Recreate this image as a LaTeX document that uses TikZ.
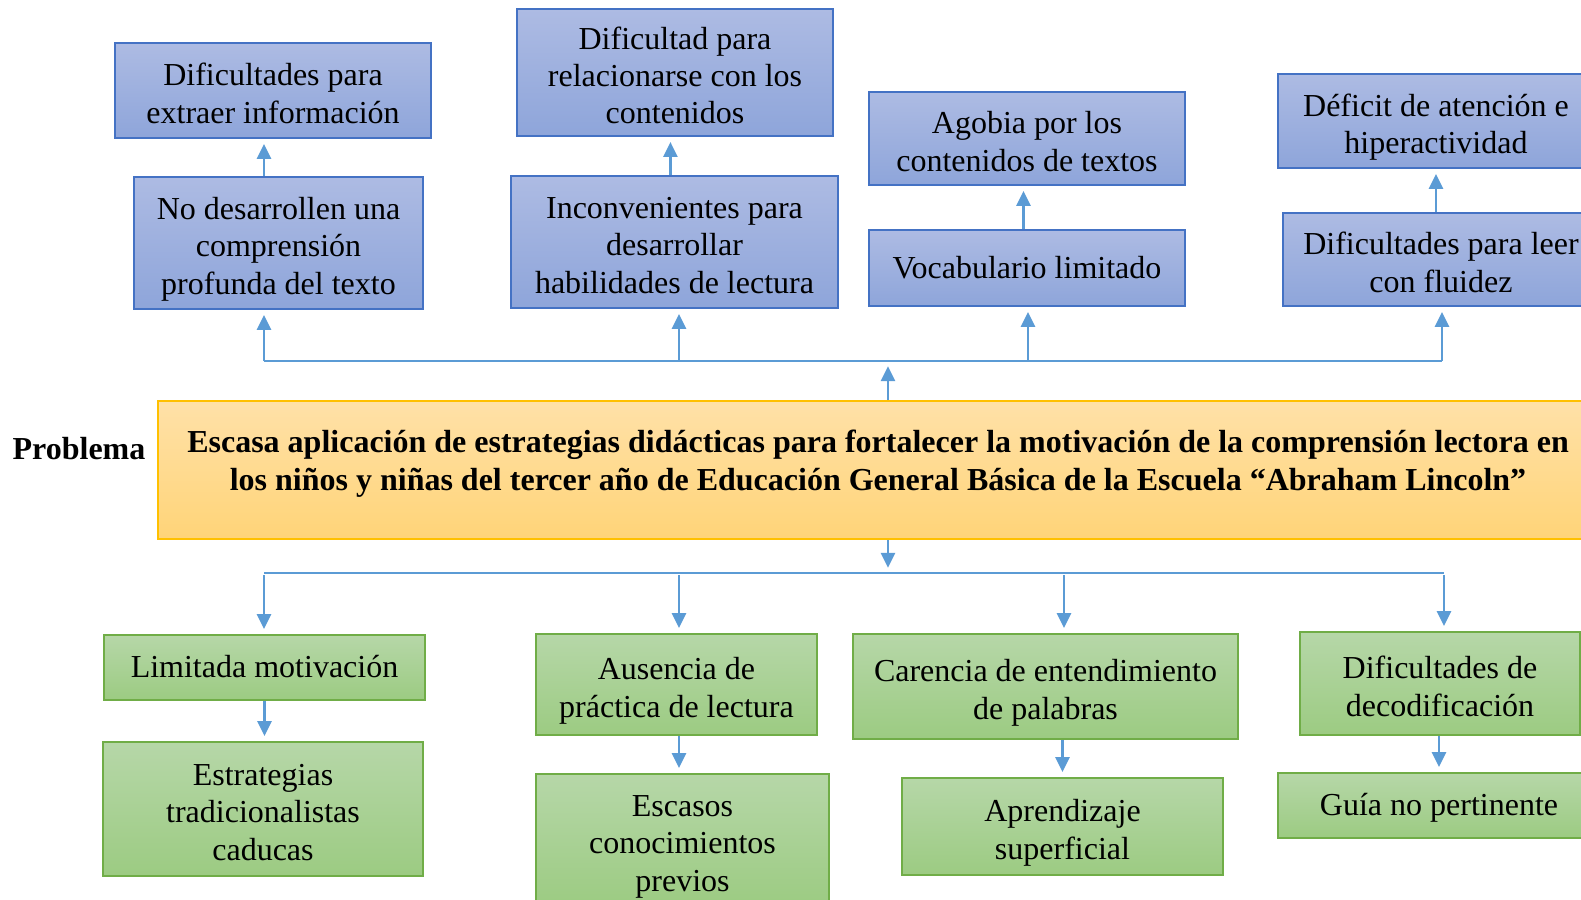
\documentclass[tikz,border=0pt]{standalone}
\usepackage{fontspec}
\setmainfont{Liberation Serif}
\usetikzlibrary{arrows.meta}

\definecolor{azulB}{HTML}{4472C4}
\definecolor{azulA}{HTML}{ADBBE3}
\definecolor{azulC}{HTML}{8EA5DA}
\definecolor{verdeB}{HTML}{70AD47}
\definecolor{verdeA}{HTML}{B6D7A8}
\definecolor{verdeC}{HTML}{9CCB82}
\definecolor{oroB}{HTML}{FFC000}
\definecolor{oroA}{HTML}{FFE1A8}
\definecolor{oroC}{HTML}{FFD478}
\definecolor{flecha}{HTML}{5B9BD5}

\newcommand{\tope}{\rule{0pt}{10.1pt}}

\tikzset{
	sz/.style 2 args={minimum width=#1*0.01cm, minimum height=#2*0.01cm},
	caja/.style={line width=0.45pt, align=center, inner sep=0pt, font=\fontsize{9.1}{10.6}\selectfont},
	multi/.style={execute at end node={\rule[-2.2pt]{0pt}{0pt}}},
	linea/.style={execute at begin node={\rule{0pt}{8.9pt}}, execute at end node={\strut}},
	efecto/.style={caja, multi, draw=azulB, top color=azulA, bottom color=azulC},
	efecto1/.style={caja, linea, draw=azulB, top color=azulA, bottom color=azulC},
	causa/.style={caja, multi, draw=verdeB, top color=verdeA, bottom color=verdeC},
	causa1/.style={caja, linea, draw=verdeB, top color=verdeA, bottom color=verdeC},
	problema/.style={draw=oroB, line width=0.45pt, top color=oroA, bottom color=oroC, align=center, inner sep=0pt, font=\bfseries\fontsize{9.1}{10.8}\selectfont},
	link/.style={draw=flecha, line width=0.6pt},
	arr/.style={link, -{Triangle[width=4pt,length=4.2pt]}, shorten >=1.5pt},
}

\begin{document}
\begin{tikzpicture}[x=0.01cm, y=-0.01cm]
		\useasboundingbox (0,0) rectangle (1581,899);
		\clip (0,0) rectangle (1581,899);
		
		\node [efecto, sz={316}{95}] at (273,90.5) (e1) {\tope Dificultades para\\extraer información};
		\node [efecto, sz={316}{127}] at (675,72.5) (e2) {\tope Dificultad para\\relacionarse con los\\contenidos};
		\node [efecto, sz={316}{93}] at (1027,138.5) (e3) {\tope Agobia por los\\contenidos de textos};
		\node [efecto, sz={316}{94}] at (1436,121) (e4) {\tope Déficit de atención e\\hiperactividad};
		
		\node [efecto, sz={289}{132}] at (278.5,243) (f1) {\tope No desarrollen una\\comprensión\\profunda del texto};
		\node [efecto, sz={327}{132}] at (674.5,242) (f2) {\tope Inconvenientes para\\desarrollar\\habilidades de lectura};
		\node [efecto1, sz={316}{76}] at (1027,268) (f3) {Vocabulario limitado};
		\node [efecto, sz={316}{93}] at (1441,259.5) (f4) {\tope Dificultades para leer\\con fluidez};
		
		\node [problema, sz={1440}{138}] at (878,470) (p) {Escasa aplicación de estrategias didácticas para fortalecer la motivación de la comprensión lectora en\\los niños y niñas del tercer año de Educación General Básica de la Escuela “Abraham Lincoln”\rule[-5.5pt]{0pt}{1pt}};
		\node [font=\bfseries\fontsize{9.1}{10.8}\selectfont] at (79,449) (lbl) {Problema};
		
		\node [causa1, sz={321}{65}] at (264.5,667.5) (c1) {Limitada motivación};
		\node [causa, sz={281}{101}] at (676.5,684.5) (c2) {\tope Ausencia de\\práctica de lectura};
		\node [causa, sz={385}{105}] at (1045.5,686.5) (c3) {\tope Carencia de entendimiento\\de palabras};
		\node [causa, sz={280}{103}] at (1440,683.5) (c4) {\tope Dificultades de\\decodificación};
		
		\node [causa, sz={320}{134}] at (263,809) (d1) {\tope Estrategias\\tradicionalistas\\caducas};
		\node [causa, sz={293}{132}] at (682.5,840) (d2) {\tope Escasos\\conocimientos\\previos};
		\node [causa, sz={321}{97}] at (1062.5,826.5) (d3) {\tope Aprendizaje\\superficial};
		\node [causa1, sz={322}{65}] at (1439,805.5) (d4) {Guía no pertinente};
		
		\coordinate (t0) at (888,361);
		\coordinate (t1) at (264,361);
		\coordinate (t2) at (679,361);
		\coordinate (t3) at (1028,361);
		\coordinate (t4) at (1442,361);
		\coordinate (b0) at (888,573);
		\coordinate (b1) at (264,573);
		\coordinate (b2) at (679,573);
		\coordinate (b3) at (1064,573);
		\coordinate (b4) at (1444,573);
		
		\draw [link] (t1) -- (t4);
		\draw [arr] (p.north -| t0) -- (t0);
		\foreach \i in {1,...,4}
			\draw [arr] (t\i) -- (t\i |- f\i.south);
		\draw [arr] (f1.north -| t1) -- (e1.south -| t1);
		\draw [arr] ([xshift=-1.15pt]f2.north) -- ([xshift=-1.15pt]f2.north |- e2.south);
		\draw [arr] ([xshift=-1pt]f3.north) -- ([xshift=-1pt]f3.north |- e3.south);
		\draw [arr] (f4.north -| e4.south) -- (e4.south);
		
		\draw [link] (b1) -- (b4);
		\draw [arr] (p.south -| b0) -- (b0);
		\foreach \i in {1,...,4}
			\draw [arr] ([yshift=-0.6pt]b\i) -- (b\i |- c\i.north);
		\draw [arr] (c1.south) -- (c1.south |- d1.north);
		\draw [arr] (c2.south -| b2) -- (d2.north -| b2);
		\draw [arr] (c3.south -| d3.north) -- (d3.north);
		\draw [arr] (c4.south -| d4.north) -- (d4.north);
	\end{tikzpicture}
\end{document}
